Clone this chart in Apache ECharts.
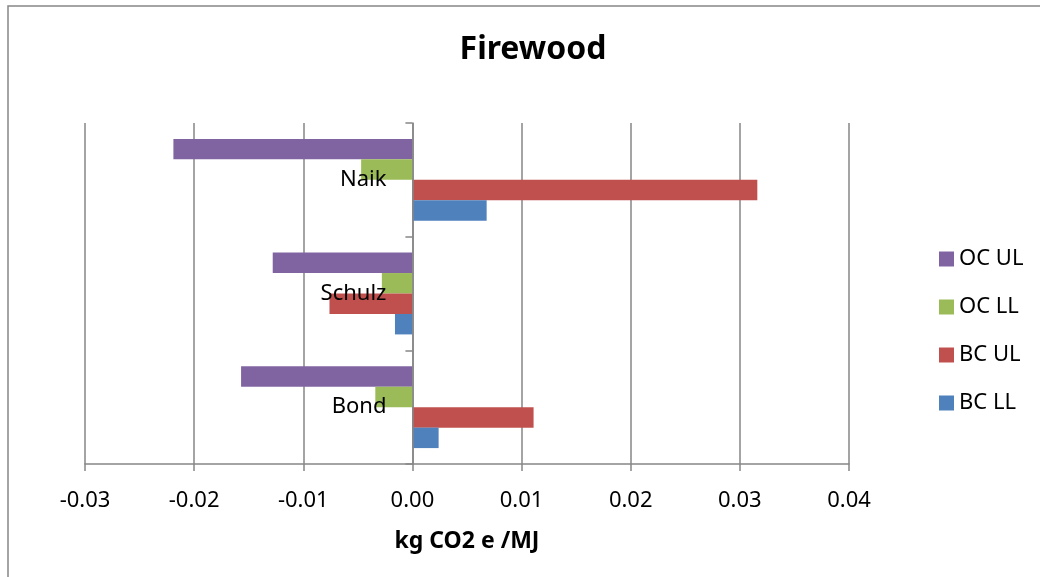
<!DOCTYPE html>
<html>
<head>
<meta charset="utf-8">
<title>Firewood</title>
<script src="https://cdn.jsdelivr.net/npm/echarts@6/dist/echarts.min.js"></script>
<style>
  html, body { margin: 0; padding: 0; background: #ffffff; }
  #chart { width: 1040px; height: 577px; }
</style>
</head>
<body>
<div id="chart"></div>
<script>
// Studies, listed bottom to top along the category axis
const categories = ['Bond', 'Schulz', 'Naik'];

// Emission factors, kg CO2 e / MJ (same order as categories)
const bcLL = [0.0024, -0.0016, 0.0068];
const bcUL = [0.0111, -0.0076, 0.0316];
const ocLL = [-0.0034, -0.0028, -0.0047];
const ocUL = [-0.0157, -0.0128, -0.0219];

const xTicks = { min: -0.03, max: 0.04, interval: 0.01 };
const legendOrder = ['OC UL', 'OC LL', 'BC UL', 'BC LL'];

const FONT = '"Noto Sans", "DejaVu Sans", sans-serif';
const GRAY = '#868686';

const GRID_LEFT = 85;
const GRID_RIGHT = 191;
const PLOT_W = 1040 - GRID_LEFT - GRID_RIGHT;
// horizontal position of x = 0 inside the plot, used to put the study names next to the zero line
const zeroOffset = PLOT_W * (0 - xTicks.min) / (xTicks.max - xTicks.min);

const chart = echarts.init(document.getElementById('chart'), null, { renderer: 'canvas' });

function barSeries(name, data, color) {
  return {
    name: name,
    type: 'bar',
    data: data,
    barGap: '0%',
    barCategoryGap: '28%',
    itemStyle: { color: color },
    emphasis: { disabled: true }
  };
}

chart.setOption({
  animation: false,
  backgroundColor: '#ffffff',
  textStyle: { fontFamily: FONT },
  title: {
    text: 'Firewood',
    left: 528,
    top: 29,
    textAlign: 'center',
    textStyle: { fontFamily: FONT, fontSize: 32, fontWeight: 'bold', color: '#000000' }
  },
  legend: {
    orient: 'vertical',
    left: 934,
    top: 243,
    itemWidth: 15,
    itemHeight: 15,
    itemGap: 26,
    icon: 'rect',
    data: legendOrder,
    selectedMode: false,
    textStyle: { fontFamily: FONT, fontSize: 22, color: '#000000', lineHeight: 15, padding: [0, 0, 0, 0] }
  },
  grid: { left: GRID_LEFT, right: GRID_RIGHT, top: 123, bottom: 113, containLabel: false, outerBoundsMode: 'none' },
  xAxis: {
    type: 'value',
    position: 'bottom',
    min: xTicks.min,
    max: xTicks.max,
    interval: xTicks.interval,
    name: 'kg CO2 e /MJ',
    nameLocation: 'middle',
    nameGap: 66,
    nameTextStyle: { fontFamily: FONT, fontSize: 23, fontWeight: 'bold', color: '#000000' },
    axisLine: { show: true, onZero: false, lineStyle: { color: GRAY, width: 1.5 } },
    axisTick: { show: true, length: 7, lineStyle: { color: GRAY, width: 1.5 } },
    axisLabel: {
      margin: 26,
      fontFamily: FONT,
      fontSize: 22,
      color: '#000000',
      formatter: function (v) { return v.toFixed(2); }
    },
    splitLine: { show: true, lineStyle: { color: GRAY, width: 1.5 } }
  },
  yAxis: {
    type: 'category',
    data: categories,
    z: 5,
    axisLine: { show: true, onZero: true, lineStyle: { color: GRAY, width: 1.5 } },
    axisTick: { show: true, length: 7, alignWithLabel: false, lineStyle: { color: GRAY, width: 1.5 } },
    axisLabel: { margin: -(zeroOffset - 26), fontFamily: FONT, fontSize: 22, color: '#000000' },
    splitLine: { show: false }
  },
  series: [
    barSeries('OC UL', ocUL, '#8064A2'),
    barSeries('OC LL', ocLL, '#9BBB59'),
    barSeries('BC UL', bcUL, '#C0504D'),
    barSeries('BC LL', bcLL, '#4F81BD')
  ],
  graphic: [{
    type: 'rect',
    shape: { x: 8, y: 6, width: 1100, height: 700 },
    style: { fill: null, stroke: GRAY, lineWidth: 1.5 },
    silent: true,
    z: 100
  }]
});
</script>
</body>
</html>
